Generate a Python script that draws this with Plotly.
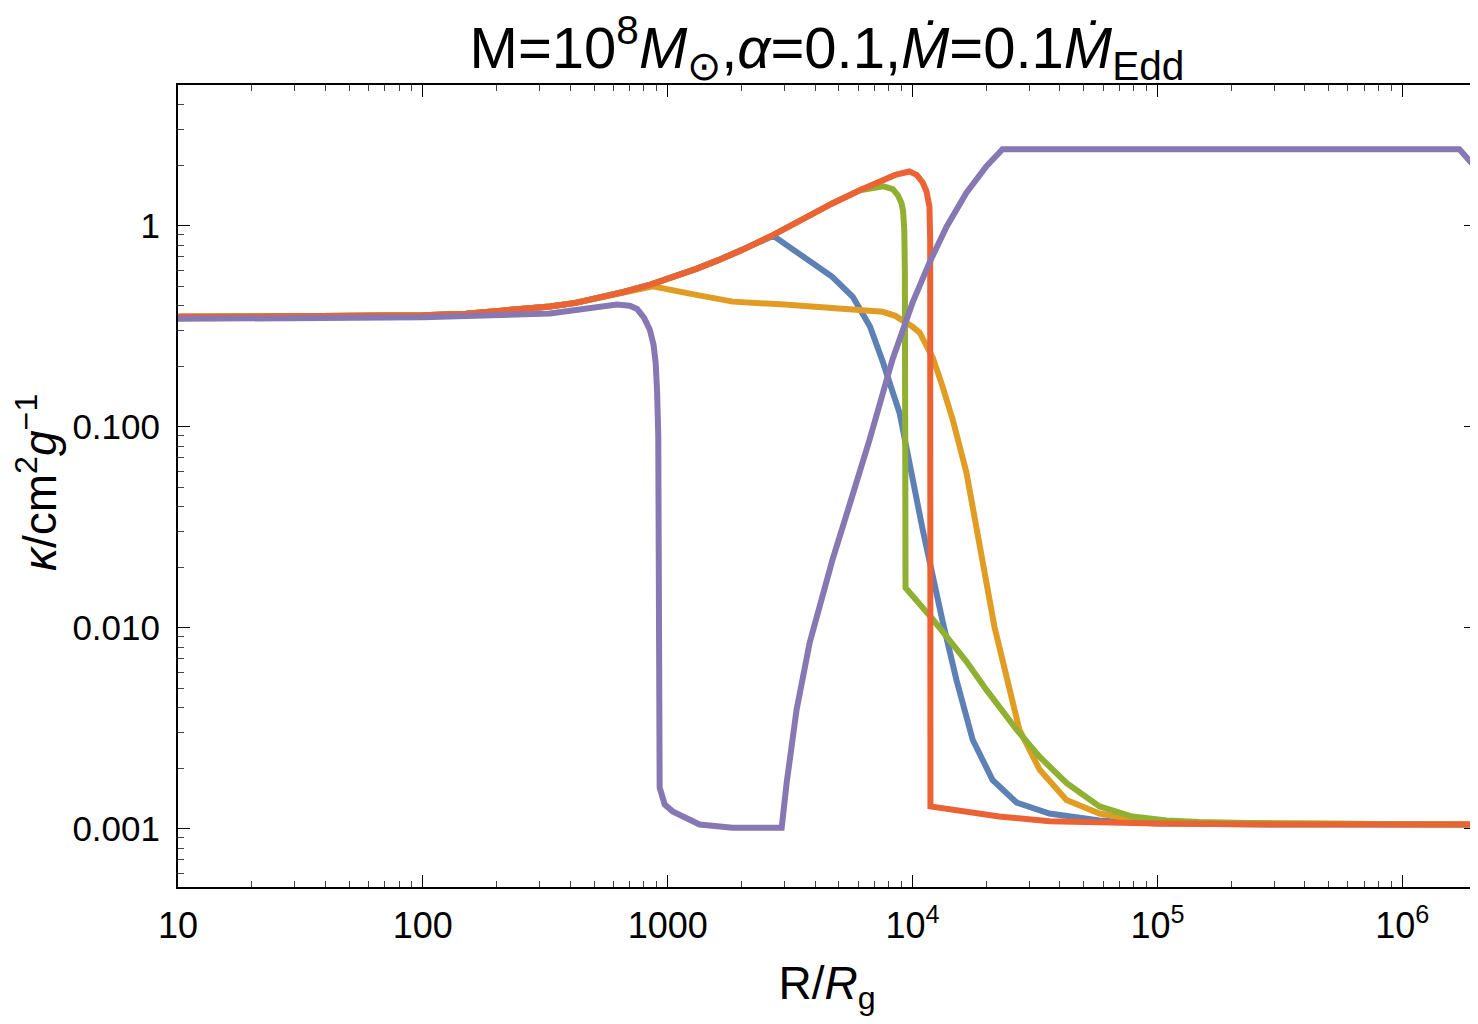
import numpy as np
import plotly.graph_objects as go

# ---------------- data ----------------
blue_R = [10, 30, 100, 150, 200, 270, 330, 420, 530, 660, 850, 1100, 1300,
          1600, 2000, 2700, 4700, 5700, 6700, 7550, 8850, 9700, 11000, 13300,
          15100, 17600, 21200, 26600, 36200, 58000, 1e5, 3e5, 1e6, 2e6]
blue_k = [0.352, 0.352, 0.358, 0.365, 0.374, 0.385, 0.396, 0.413, 0.438,
          0.468, 0.509, 0.565, 0.608, 0.672, 0.754, 0.89, 0.557, 0.443, 0.315,
          0.211, 0.117, 0.0662, 0.0307, 0.0106, 0.00551, 0.00277, 0.00175,
          0.00135, 0.00119, 0.00110, 0.00106, 0.00105, 0.00105, 0.00105]

orange_R = [10, 30, 100, 150, 200, 270, 330, 420, 530, 660, 870, 1230, 1840,
            3000, 4700, 7550, 8500, 9100, 10000, 10700, 11400, 12100, 13200,
            14600, 16600, 18750, 21600, 22600, 24800, 27300, 33000, 42500,
            58000, 79000, 1.2e5, 1e6, 2e6]
orange_k = [0.352, 0.352, 0.358, 0.365, 0.374, 0.385, 0.396, 0.413, 0.438,
            0.468, 0.50, 0.459, 0.419, 0.405, 0.391, 0.373, 0.356, 0.340,
            0.314, 0.294, 0.256, 0.220, 0.161, 0.108, 0.0590, 0.0253, 0.0101,
            0.00804, 0.00493, 0.00311, 0.00197, 0.00139, 0.00119, 0.00111,
            0.00107, 0.00105, 0.00105]

green_R = [10, 30, 100, 150, 200, 270, 330, 420, 530, 660, 850, 1100, 1300,
           1600, 2000, 2700, 3460, 4700, 6080, 7000, 7600, 8300, 8700, 9000,
           9150, 9250, 9300, 9330, 9360, 12100, 16600, 20000, 26600, 33000,
           42500, 58000, 79000, 1.09e5, 1.48e5, 3e5, 1e6, 2e6]
green_k = [0.352, 0.352, 0.358, 0.365, 0.374, 0.385, 0.396, 0.413, 0.438,
           0.468, 0.509, 0.565, 0.608, 0.672, 0.754, 0.90, 1.06, 1.29, 1.50,
           1.55, 1.57, 1.52, 1.42, 1.30, 1.18, 0.95, 0.6, 0.1, 0.0158,
           0.0110, 0.00678, 0.00492, 0.00311, 0.00228, 0.00169, 0.00129,
           0.00115, 0.00110, 0.00108, 0.00106, 0.00105, 0.00105]

red_R = [10, 30, 100, 150, 200, 270, 330, 420, 530, 660, 850, 1100, 1300,
         1600, 2000, 2700, 3460, 4700, 6080, 7550, 8500, 9700, 10400, 11000,
         11400, 11720, 11800, 11830, 22600, 36200, 58000, 1e5, 3e5, 1e6, 2e6]
red_k = [0.352, 0.352, 0.358, 0.365, 0.374, 0.385, 0.396, 0.413, 0.438,
         0.468, 0.509, 0.565, 0.608, 0.672, 0.754, 0.90, 1.06, 1.29, 1.50,
         1.69, 1.79, 1.86, 1.79, 1.64, 1.48, 1.24, 0.85, 0.00129, 0.00115,
         0.00109, 0.00107, 0.00106, 0.00105, 0.00105, 0.00105]

purple_R = [10, 100, 330, 450, 620, 700, 750, 800, 845, 875, 893, 905, 915,
            927, 972, 1047, 1350, 1840, 2920, 3060, 3360, 3800, 4290, 4710,
            5530, 6670, 8280, 10000, 11720, 13770, 16600, 20000, 23300,
            1.71e6, 2e6]
purple_k = [0.344, 0.350, 0.366, 0.386, 0.405, 0.400, 0.385, 0.349, 0.304,
            0.256, 0.208, 0.150, 0.090, 0.0016, 0.00132, 0.00122, 0.00105,
            0.00101, 0.00101, 0.00169, 0.00391, 0.00842, 0.0149, 0.0218,
            0.0409, 0.0861, 0.216, 0.414, 0.655, 0.989, 1.46, 1.97, 2.40,
            2.40, 1.94]

x_tickvals = [10, 100, 1000, 1e4, 1e5, 1e6]
x_ticktext = ["10", "100", "1000", "10<sup>4</sup>", "10<sup>5</sup>", "10<sup>6</sup>"]
y_tickvals = [0.001, 0.01, 0.1, 1]
y_ticktext = ["0.001", "0.010", "0.100", "1"]

# ---------------- figure ----------------
series = [
    (blue_R, blue_k, "#5E81B5"),
    (orange_R, orange_k, "#E19C24"),
    (green_R, green_k, "#8FB032"),
    (red_R, red_k, "#EB6235"),
    (purple_R, purple_k, "#8778B3"),
]

fig = go.Figure()
for R, k, c in series:
    fig.add_trace(go.Scatter(x=R, y=k, mode="lines",
                             line=dict(color=c, width=6),
                             hoverinfo="skip"))

minor_x = [m * 10.0 ** d for d in range(1, 7) for m in range(2, 10)]
minor_y = [m * 10.0 ** d for d in range(-4, 1) for m in range(2, 10)]

font_family = "Liberation Sans, Arial, sans-serif"

common_axis = dict(
    type="log", showline=True, linecolor="black", linewidth=2,
    mirror="allticks", ticks="inside", ticklen=12, tickwidth=1,
    tickcolor="black", showgrid=False, zeroline=False, automargin=False,
)

# the page body adds an 8px offset, so the figure is sized to fit the window
W, H = 1470, 1008
L, R_, T, B = 170, 2, 77, 129
fig.update_layout(
    width=W, height=H,
    margin=dict(l=L, r=R_, t=T, b=B),
    plot_bgcolor="white", paper_bgcolor="white",
    showlegend=False,
    font=dict(family=font_family, color="black"),
    title=dict(
        text="M=10<sup>8</sup><i>M</i><sub>⊙</sub>,<i>α</i>=0.1,<i>Ṁ</i>=0.1<i>Ṁ</i><sub>Edd</sub>",
        font=dict(size=58, family=font_family, color="black"),
        x=0.5, xref="paper", xanchor="center",
        y=1 - 40 / H, yref="container", yanchor="middle",
        automargin=False,
    ),
    xaxis=dict(
        **common_axis,
        range=[1, np.log10(2e6)],
        tickmode="array", tickvals=x_tickvals, ticktext=x_ticktext,
        tickfont=dict(size=36, family=font_family, color="black"),
        minor=dict(ticks="inside", ticklen=6, tickwidth=1, tickcolor="#444",
                   tickmode="array", tickvals=minor_x, showgrid=False),
        ticklabelstandoff=6,
        title=dict(text="R/<i>R</i><sub>g</sub>",
                   font=dict(size=46, family=font_family, color="black"),
                   standoff=24),
    ),
    yaxis=dict(
        **common_axis,
        range=[-3.29, 0.70],
        tickmode="array", tickvals=y_tickvals, ticktext=y_ticktext,
        tickfont=dict(size=35, family=font_family, color="black"),
        minor=dict(ticks="inside", ticklen=6, tickwidth=1, tickcolor="#444",
                   tickmode="array", tickvals=minor_y, showgrid=False),
        ticklabelstandoff=9,
    ),
)

# y-axis label
plot_h = H - T - B
plot_w = W - L - R_
fig.add_annotation(
    text="<i>κ</i>/cm<sup>2</sup><i>g</i><sup>−1</sup>",
    textangle=-90, showarrow=False,
    xref="paper", yref="paper",
    x=(29 - L) / plot_w, y=(H - B - 475) / plot_h,
    xanchor="center", yanchor="middle",
    font=dict(size=46, family=font_family, color="black"),
)

fig.write_html("out.html")
